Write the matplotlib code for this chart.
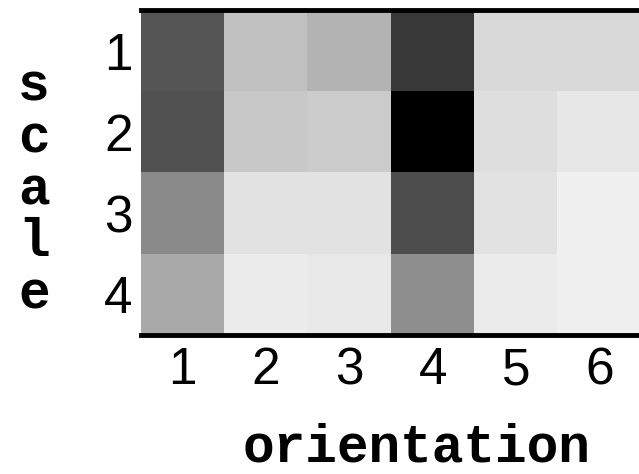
import matplotlib.pyplot as plt
import numpy as np

# gray level (0 = black, 255 = white) of each cell, rows = scale, cols = orientation
scales = [1, 2, 3, 4]
orientations = [1, 2, 3, 4, 5, 6]
scale1 = [85, 192, 179, 56, 217, 217]
scale2 = [82, 200, 203, 0, 222, 231]
scale3 = [138, 226, 226, 77, 226, 240]
scale4 = [169, 236, 232, 142, 235, 240]

data = np.array([scale1, scale2, scale3, scale4])

fig = plt.figure(figsize=(6.39, 4.74), dpi=100)
W, H = 639, 474
ax = fig.add_axes([141 / W, 1 - 335 / H, 500 / W, 325 / H])

ax.imshow(data, cmap="gray", vmin=0, vmax=255, aspect="auto",
          interpolation="nearest",
          extent=(0.5, len(orientations) + 0.5, len(scales) + 0.5, 0.5))

ax.set_xticks(orientations)
ax.set_yticks(scales)
ax.set_xticklabels([str(o) for o in orientations], family="Liberation Sans", fontsize=37)
ax.set_yticklabels([str(s) for s in scales], family="Liberation Sans", fontsize=37)
ax.tick_params(axis="both", length=0)
ax.tick_params(axis="x", pad=8)
ax.tick_params(axis="y", pad=6)

# only a few tick marks survive in the original rendering
ax.set_xticks([1, 2, 6], minor=True)
ax.tick_params(axis="x", which="minor", direction="in", length=3, width=2.5,
               top=True, bottom=True)

for side in ["left", "right"]:
    ax.spines[side].set_visible(False)
for side in ["top", "bottom"]:
    ax.spines[side].set_linewidth(3.5)

fig.text(417 / W, 1 / H, "orientation", family="Liberation Mono",
         weight="bold", fontsize=38, ha="center", va="bottom")
fig.text(34 / W, 1 - 190 / H, "s\nc\na\nl\ne", family="Liberation Mono",
         weight="bold", fontsize=38, ha="center", va="center", linespacing=1.05)

fig.savefig("out.png", dpi=100)
